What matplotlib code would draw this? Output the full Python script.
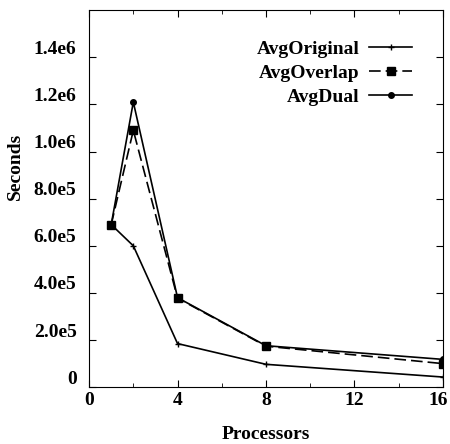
import matplotlib
matplotlib.use("Agg")
import matplotlib.pyplot as plt
import matplotlib.transforms as mtransforms

plt.rcParams["font.family"] = ["Liberation Serif", "DejaVu Serif"]
plt.rcParams["font.weight"] = "bold"

procs = [1, 2, 4, 8, 16]
avg_original = [6.9e5, 6.0e5, 1.85e5, 0.97e5, 0.43e5]
avg_overlap = [6.9e5, 1.09e6, 3.78e5, 1.74e5, 1.0e5]
avg_dual = [6.9e5, 1.21e6, 3.8e5, 1.76e5, 1.18e5]

yticks = [0, 2e5, 4e5, 6e5, 8e5, 1e6, 1.2e6, 1.4e6]
ylabels = ["0", "2.0e5", "4.0e5", "6.0e5", "8.0e5", "1.0e6", "1.2e6", "1.4e6"]
xticks = [0, 4, 8, 12, 16]

fig = plt.figure(figsize=(4.5, 4.44), dpi=100)
ax = fig.add_axes([0.198, 0.128, 0.786, 0.849])

ax.plot(procs, avg_original, "k-", marker="+", ms=5, lw=1.2, label="AvgOriginal")
ax.plot(procs, avg_overlap, "k--", marker="s", ms=6, lw=1.2, dashes=(7, 3),
        label="AvgOverlap")
ax.plot(procs, avg_dual, "k-", marker="o", ms=4, lw=1.2, label="AvgDual")

ax.set_xlim(0, 16)
ax.set_ylim(0, 1.6e6)
ax.set_xticks(xticks)
ax.set_xticks(range(0, 17, 2), minor=True)
ax.set_yticks(yticks)
ax.set_yticklabels(ylabels)
ax.tick_params(direction="in", top=True, right=True, which="both", labelsize=14,
               length=5)
ax.tick_params(axis="y", pad=9)
ax.tick_params(which="minor", length=3)

# labels in the original sit a bit above their ticks
off = mtransforms.ScaledTranslation(0, 10 / 100, fig.dpi_scale_trans)
for lbl in ax.get_yticklabels():
    lbl.set_transform(lbl.get_transform() + off)
# keep the last x label inside the picture
last = ax.get_xticklabels()[-1]
last.set_transform(last.get_transform()
                   + mtransforms.ScaledTranslation(-5 / 100, 0, fig.dpi_scale_trans))

for s in ax.spines.values():
    s.set_linewidth(0.8)

ax.set_ylabel("Seconds", fontsize=14, fontweight="bold")
ax.yaxis.set_label_coords(-0.183, 0.586)
ax.set_xlabel("Processors", fontsize=14, fontweight="bold", labelpad=12)

ax.legend(loc="upper right", bbox_to_anchor=(0.935, 0.94), frameon=False,
          markerfirst=False, fontsize=14, handlelength=2.2, handletextpad=0.5,
          labelspacing=0.32, borderaxespad=0)

fig.savefig("out.png", dpi=100)
